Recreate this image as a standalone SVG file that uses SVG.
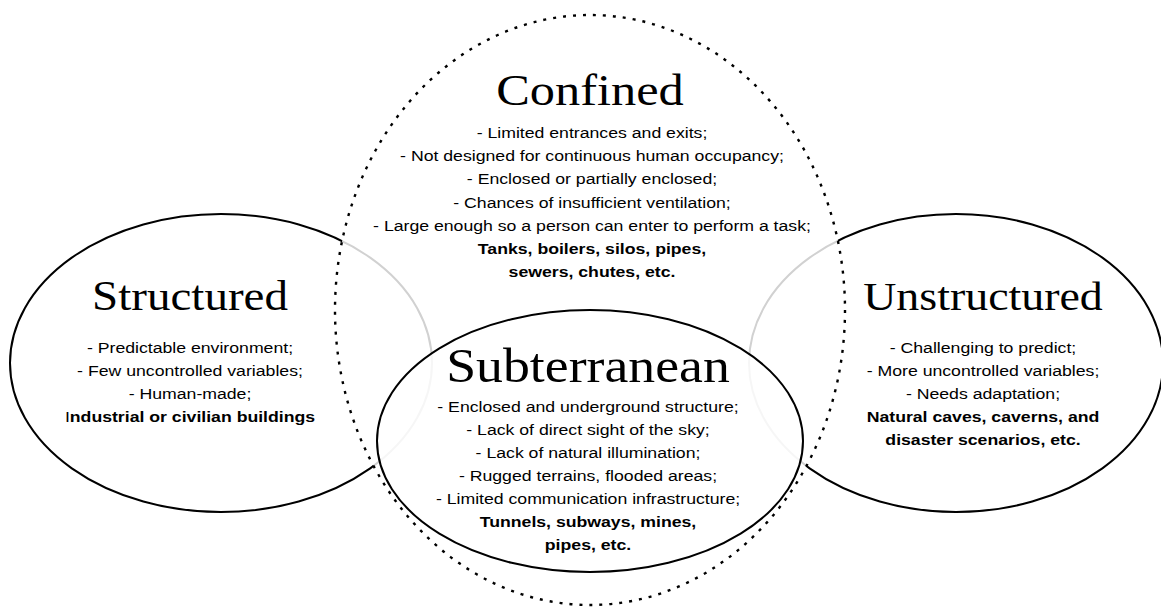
<svg xmlns="http://www.w3.org/2000/svg" width="1161" height="608" viewBox="0 0 1161 608">
<style>
.bg{fill:#ffffff}
.solid{fill:none;stroke:#000;stroke-width:2}
.dotted{fill:#ffffff;fill-opacity:0.82;stroke:#000;stroke-width:2.4;stroke-dasharray:3 7}
.sub{fill:#ffffff;fill-opacity:0.8;stroke:#000;stroke-width:2}
.title{font-family:"Liberation Serif","Times New Roman",serif;fill:#000;text-anchor:middle}
.body{font-family:"Liberation Sans",Arial,sans-serif;font-size:15.5px;fill:#000;text-anchor:middle}
.b{font-weight:bold}
.n{font-weight:normal}
</style>
<rect class="bg" x="0" y="0" width="1161" height="608"/>
<g id="structured">
  <ellipse class="solid" cx="221" cy="363" rx="211" ry="149"/>
  <text class="title" font-size="42" transform="translate(190 310) scale(1.12 1)">Structured</text>
  <g class="body">
    <text transform="translate(190 353) scale(1.14 1)">- Predictable environment;</text>
    <text transform="translate(190 376) scale(1.14 1)">- Few uncontrolled variables;</text>
    <text transform="translate(190 399) scale(1.14 1)">- Human-made;</text>
    <text class="b" transform="translate(190 422) scale(1.14 1)"><tspan class="n">I</tspan>ndustrial or civilian buildings</text>
  </g>
</g>
<g id="unstructured">
  <ellipse class="solid" cx="956" cy="363" rx="207" ry="149"/>
  <text class="title" font-size="41" transform="translate(983 310) scale(1.12 1)">Unstructured</text>
  <g class="body">
    <text transform="translate(983 353) scale(1.14 1)">- Challenging to predict;</text>
    <text transform="translate(983 376) scale(1.14 1)">- More uncontrolled variables;</text>
    <text transform="translate(983 399) scale(1.14 1)">- Needs adaptation;</text>
    <text class="b" transform="translate(983 422) scale(1.14 1)">Natural caves, caverns, and</text>
    <text class="b" transform="translate(983 445) scale(1.14 1)">disaster scenarios, etc.</text>
  </g>
</g>
<g id="confined">
  <ellipse class="dotted" cx="590" cy="310" rx="255" ry="295"/>
  <text class="title" font-size="45" transform="translate(590 105) scale(1.12 1)">Confined</text>
  <g class="body">
    <text transform="translate(592 138) scale(1.14 1)">- Limited entrances and exits;</text>
    <text transform="translate(592 161) scale(1.14 1)">- Not designed for continuous human occupancy;</text>
    <text transform="translate(592 184) scale(1.14 1)">- Enclosed or partially enclosed;</text>
    <text transform="translate(592 208) scale(1.14 1)">- Chances of insufficient ventilation;</text>
    <text transform="translate(592 231) scale(1.14 1)">- Large enough so a person can enter to perform a task;</text>
    <text class="b" transform="translate(592 254) scale(1.14 1)">Tanks, boilers, silos, pipes,</text>
    <text class="b" transform="translate(592 277) scale(1.14 1)">sewers, chutes, etc.</text>
  </g>
</g>
<g id="subterranean">
  <ellipse class="sub" cx="590" cy="441" rx="213" ry="131"/>
  <text class="title" font-size="48" transform="translate(588 382) scale(1.12 1)">Subterranean</text>
  <g class="body">
    <text transform="translate(588 412) scale(1.14 1)">- Enclosed and underground structure;</text>
    <text transform="translate(588 435) scale(1.14 1)">- Lack of direct sight of the sky;</text>
    <text transform="translate(588 458) scale(1.14 1)">- Lack of natural illumination;</text>
    <text transform="translate(588 481) scale(1.14 1)">- Rugged terrains, flooded areas;</text>
    <text transform="translate(588 504) scale(1.14 1)">- Limited communication infrastructure;</text>
    <text class="b" transform="translate(588 527) scale(1.14 1)">Tunnels, subways, mines,</text>
    <text class="b" transform="translate(588 550) scale(1.14 1)">pipes, etc.</text>
  </g>
</g>
<g id="connectors"></g>
</svg>
